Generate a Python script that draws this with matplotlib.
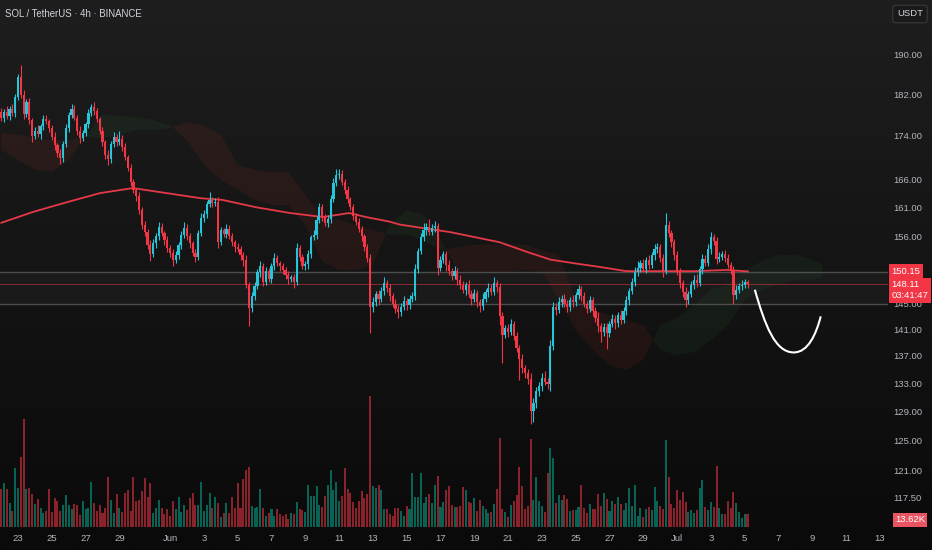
import numpy as np
import matplotlib
matplotlib.use("Agg")
import matplotlib.pyplot as plt
import matplotlib.transforms as mtransforms
from matplotlib.path import Path
from matplotlib.patches import PathPatch
from matplotlib.colors import LinearSegmentedColormap, to_rgba
from matplotlib.ticker import NullLocator, NullFormatter

plt.rcParams['font.family'] = ['Liberation Sans Narrow', 'Liberation Sans', 'DejaVu Sans']

# ---------------- data (4h candles, x = days since May 22) ----------------
first_open = 178.6
closes = [
    177.5, 178.6, 177.8, 179.2, 178.4, 181.5, 185.6, 182.0, 178.2, 180.5,
    177.0, 174.0, 175.0, 174.3, 175.8, 177.2, 176.8, 175.5, 173.8, 172.2,
    170.8, 169.8, 172.5, 175.5, 178.0, 179.2, 177.5, 175.0, 173.6, 174.5,
    176.2, 178.4, 179.5, 178.8, 177.2, 175.0, 172.8, 170.5, 169.6, 172.5,
    173.8, 172.8, 173.5, 172.0, 170.0, 168.0, 165.5, 164.0, 163.0, 160.5,
    158.0, 156.8, 154.5, 153.0, 154.8, 156.0, 157.6, 156.5, 155.4, 154.0,
    153.2, 152.0, 152.8, 154.5, 156.2, 157.5, 156.0, 154.8, 153.2, 152.6,
    156.5, 159.2, 159.8, 161.5, 162.3, 161.8, 162.0, 155.0, 157.0, 156.4,
    157.3, 156.0, 155.0, 154.2, 153.8, 152.8, 152.0, 148.0, 144.3, 146.2,
    147.8, 150.0, 151.0, 148.5, 150.2, 149.0, 151.0, 152.4, 151.5, 151.0,
    150.4, 149.6, 149.0, 149.2, 148.5, 154.0, 152.5, 151.0, 151.4, 153.0,
    155.8, 156.2, 158.8, 161.0, 159.5, 158.2, 159.0, 162.5, 165.3, 166.8,
    167.0, 165.5, 164.0, 162.5, 161.0, 159.5, 158.5, 157.2, 156.0, 154.2,
    152.4, 144.5, 145.2, 146.5, 145.8, 147.0, 148.3, 147.5, 146.2, 145.0,
    144.2, 143.6, 144.5, 145.4, 144.8, 145.8, 146.2, 150.5, 153.5, 155.8,
    157.0, 157.6, 156.8, 157.5, 157.8, 150.8, 152.0, 153.0, 151.2, 150.2,
    149.4, 150.2, 148.8, 148.0, 147.2, 148.0, 146.5, 145.8, 146.6, 145.2,
    144.6, 145.8, 146.8, 147.5, 146.9, 148.2, 147.6, 143.0, 140.2, 141.2,
    140.6, 141.8, 140.0, 138.2, 136.5, 135.2, 134.4, 133.6, 129.0, 130.2,
    131.8, 132.6, 133.8, 133.2, 132.8, 138.5, 144.5, 144.0, 145.2, 145.8,
    145.0, 144.4, 145.6, 145.2, 146.3, 147.3, 146.2, 145.0, 144.2, 145.5,
    143.8, 142.8, 141.5, 140.6, 141.3, 140.5, 141.8, 142.6, 141.9, 143.2,
    142.5, 143.8, 145.5, 147.0, 148.5, 150.0, 150.8, 151.5, 150.6, 152.0,
    151.2, 152.8, 153.8, 154.2, 152.4, 150.2, 157.9, 156.5, 155.0, 152.8,
    150.2, 148.2, 146.8, 145.6, 146.5, 148.0, 148.8, 148.3, 150.5, 152.2,
    151.6, 153.8, 155.8, 155.2, 152.2, 152.6, 153.0, 152.4, 151.2, 150.4,
    146.3, 147.2, 147.8, 148.0, 148.4, 148.11,
]
wick_up = [
    0.8, 0.6, 1.2, 0.5, 0.9, 0.7, 0.6, 2.4, 0.8, 0.7,
    0.9, 0.5, 0.6, 1.1, 0.4, 0.7, 0.8, 0.5, 0.6, 0.9,
    0.4, 0.7, 0.5, 0.8, 0.6, 1.0, 0.7, 0.5, 0.9, 0.6,
    0.5, 0.8, 0.7, 1.1, 0.6, 0.4, 0.7, 0.5, 0.8, 0.6,
    0.9, 0.5, 1.4, 0.7, 0.6, 0.5, 0.8, 0.6, 0.4, 0.7,
    0.5, 0.6, 0.4, 0.8, 0.7, 0.5, 0.9, 0.6, 0.4, 0.7,
    0.5, 0.6, 0.8, 0.5, 0.7, 0.9, 0.6, 0.5, 0.4, 0.6,
    0.5, 0.8, 0.7, 0.6, 1.4, 0.5, 0.7, 0.9, 0.6, 0.5,
    0.8, 0.6, 0.5, 0.4, 0.7, 0.5, 0.6, 0.8, 0.5, 0.7,
    0.6, 0.5, 0.9, 0.6, 0.7, 0.5, 0.6, 0.8, 0.5, 0.4,
    0.6, 0.5, 0.7, 0.4, 0.6, 0.8, 0.5, 0.6, 0.4, 0.7,
    0.5, 0.9, 0.6, 0.8, 0.5, 0.4, 0.7, 0.6, 0.9, 1.0,
    0.8, 0.6, 0.5, 0.7, 0.4, 0.6, 0.5, 0.7, 0.6, 0.4,
    0.5, 0.6, 0.8, 0.5, 0.7, 0.6, 0.9, 0.5, 0.6, 0.4,
    0.7, 0.5, 0.6, 0.8, 0.5, 0.6, 0.7, 0.9, 0.6, 0.8,
    1.2, 0.7, 1.3, 0.6, 0.8, 0.5, 0.7, 0.6, 0.5, 0.8,
    0.6, 0.9, 0.5, 0.7, 0.6, 0.5, 0.8, 0.6, 0.7, 0.5,
    0.6, 0.8, 0.5, 0.7, 0.6, 1.0, 0.5, 0.6, 0.7, 0.5,
    0.6, 0.8, 0.5, 0.6, 0.4, 0.7, 0.5, 0.6, 0.8, 0.7,
    0.6, 0.5, 0.7, 0.9, 0.6, 0.8, 0.7, 0.6, 0.9, 0.5,
    0.7, 0.6, 0.5, 0.8, 0.6, 0.7, 0.5, 0.6, 0.4, 0.7,
    0.5, 0.6, 0.8, 0.5, 0.7, 0.6, 0.5, 0.7, 0.6, 0.5,
    0.8, 0.6, 0.7, 0.5, 0.6, 0.9, 1.1, 0.6, 0.7, 0.5,
    0.8, 0.6, 0.9, 0.7, 0.5, 0.6, 2.1, 0.8, 0.5, 0.6,
    0.7, 0.5, 0.6, 0.8, 0.5, 0.6, 0.7, 0.9, 0.6, 0.8,
    0.7, 0.9, 1.0, 0.6, 0.7, 0.8, 0.5, 0.7, 0.6, 0.5,
    0.6, 0.8, 0.5, 0.7, 0.6, 0.4,
]
wick_dn = [
    0.6, 0.9, 0.5, 0.8, 0.6, 0.7, 0.5, 0.6, 0.9, 0.5,
    0.7, 1.2, 0.6, 0.5, 0.8, 0.6, 0.5, 0.7, 0.6, 0.9,
    0.8, 1.1, 0.6, 0.5, 0.7, 0.6, 0.5, 0.8, 0.9, 0.6,
    0.5, 0.7, 0.6, 0.8, 0.5, 0.6, 0.7, 0.9, 1.0, 0.6,
    0.5, 0.7, 0.6, 0.8, 0.5, 0.6, 0.7, 0.5, 0.9, 0.6,
    0.7, 0.8, 0.6, 1.2, 0.5, 0.7, 0.6, 0.5, 0.8, 0.6,
    0.7, 0.9, 0.5, 0.6, 0.7, 0.5, 0.6, 0.8, 0.5, 0.9,
    0.6, 0.5, 0.7, 0.6, 0.5, 0.8, 0.6, 1.0, 0.5, 0.6,
    0.7, 0.5, 0.6, 0.8, 0.5, 0.7, 0.9, 0.6, 2.8, 0.7,
    0.6, 0.5, 0.8, 0.7, 0.6, 0.5, 0.7, 0.6, 0.5, 0.8,
    0.6, 0.7, 0.9, 0.5, 1.0, 0.6, 0.7, 0.5, 0.6, 0.8,
    0.6, 0.5, 0.7, 0.6, 0.8, 0.5, 0.6, 0.7, 0.5, 0.6,
    0.7, 0.5, 0.6, 0.8, 0.5, 0.7, 0.6, 0.5, 0.8, 0.6,
    0.7, 4.1, 0.8, 0.6, 1.0, 0.5, 0.7, 0.6, 0.8, 0.5,
    0.7, 0.9, 0.6, 0.5, 0.8, 0.6, 0.5, 0.7, 0.6, 0.5,
    0.6, 0.7, 0.5, 0.6, 0.8, 1.2, 0.6, 0.5, 1.0, 0.7,
    0.6, 0.5, 0.8, 0.7, 0.6, 0.9, 0.5, 1.1, 0.6, 0.7,
    0.9, 0.6, 0.5, 0.7, 0.6, 0.5, 0.7, 1.4, 4.2, 0.6,
    0.8, 0.5, 0.7, 0.6, 3.0, 0.8, 0.6, 0.7, 1.8, 1.5,
    0.7, 0.6, 0.8, 0.5, 0.7, 0.9, 0.6, 0.8, 0.5, 0.7,
    0.6, 0.8, 0.5, 0.7, 0.6, 0.5, 0.8, 0.6, 0.7, 0.5,
    0.8, 0.7, 0.9, 1.6, 0.6, 2.5, 0.7, 0.5, 0.8, 0.6,
    0.7, 0.5, 0.6, 0.8, 0.5, 0.7, 0.6, 0.8, 0.5, 0.7,
    0.6, 0.5, 0.8, 0.6, 0.7, 0.9, 0.5, 0.6, 0.8, 0.7,
    0.6, 0.8, 0.7, 1.2, 0.6, 0.5, 0.7, 0.6, 0.5, 0.8,
    0.6, 0.5, 0.7, 0.6, 0.8, 0.5, 0.6, 0.7, 0.5, 0.6,
    1.4, 0.6, 0.5, 0.7, 0.5, 0.6,
]
volume_k = [
    39.6, 46.2, 39.9, 25.2, 16.8, 62.0, 41.0, 73.5, 113.4, 39.9,
    41.0, 34.7, 24.2, 29.4, 20.0, 14.7, 16.8, 39.9, 15.8, 30.5,
    27.3, 16.8, 23.1, 33.6, 23.1, 18.9, 24.2, 23.1, 12.6, 27.3,
    18.9, 20.0, 47.3, 25.2, 16.8, 23.1, 14.7, 20.0, 52.5, 28.4,
    14.7, 34.7, 20.0, 15.8, 35.7, 38.9, 16.8, 52.5, 27.3, 28.4,
    37.8, 51.5, 31.5, 46.2, 14.7, 20.0, 28.4, 20.0, 13.7, 18.9,
    11.6, 27.3, 18.9, 31.5, 15.8, 23.1, 17.9, 30.5, 35.7, 23.1,
    23.1, 47.3, 16.8, 23.1, 35.7, 20.0, 31.5, 25.2, 10.5, 14.7,
    25.2, 14.7, 31.5, 20.0, 46.2, 20.0, 50.4, 59.9, 63.0, 22.1,
    20.0, 21.0, 39.9, 20.0, 11.6, 14.7, 18.9, 11.6, 18.9, 13.7,
    11.6, 13.7, 8.4, 14.7, 13.7, 26.3, 18.9, 17.9, 15.8, 44.1,
    32.6, 32.6, 43.1, 23.1, 21.0, 32.6, 44.1, 59.9, 38.9, 47.3,
    27.3, 32.6, 62.0, 39.9, 35.7, 26.3, 20.0, 27.3, 37.8, 30.5,
    34.7, 137.6, 43.1, 41.0, 44.1, 38.9, 18.9, 18.9, 13.7, 11.6,
    20.0, 20.0, 16.8, 11.6, 22.1, 18.9, 56.7, 31.5, 31.5, 56.7,
    25.2, 31.5, 34.7, 25.2, 44.1, 53.6, 21.0, 26.3, 38.9, 43.1,
    23.1, 21.0, 21.0, 22.1, 42.0, 38.9, 26.3, 25.2, 30.5, 16.8,
    28.4, 22.1, 18.9, 14.7, 15.8, 24.2, 39.9, 93.5, 18.9, 15.8,
    10.5, 23.1, 27.3, 33.6, 63.0, 43.1, 18.9, 22.1, 92.4, 28.4,
    52.5, 27.3, 22.1, 15.8, 56.7, 83.0, 72.5, 25.2, 33.6, 28.4,
    33.6, 29.4, 16.8, 17.9, 17.9, 21.0, 44.1, 20.0, 14.7, 24.2,
    18.9, 18.9, 34.7, 22.1, 35.7, 29.4, 16.8, 27.3, 24.2, 31.5,
    24.2, 17.9, 25.2, 41.0, 22.1, 44.1, 11.6, 20.0, 10.5, 18.9,
    21.0, 17.9, 42.0, 27.3, 22.1, 18.9, 91.4, 52.5, 24.2, 20.0,
    38.9, 28.4, 36.8, 26.3, 15.8, 17.9, 14.7, 17.9, 41.0, 49.4,
    21.0, 17.9, 26.3, 21.0, 64.1, 20.0, 13.7, 13.7, 27.3, 20.0,
    36.8, 25.2, 15.8, 9.5, 13.7, 13.62,
]

# moving average (sampled along its path)
ma_days = [0, 1.9, 3.9, 5.85, 7.8, 9.8, 11.8, 13.1, 15.1, 17.1, 19.05, 20.6,
           21.6, 23.0, 23.6, 26.6, 29.5, 31.1, 32.5, 33.9, 35.4, 37.0, 39.0,
           41.0, 42.95, 44.2]
ma_vals = [158.3, 160.2, 161.9, 163.5, 164.4, 163.5, 162.6, 162.3, 161.0, 160.0,
           159.3, 160.0, 159.3, 158.5, 158.0, 156.7, 155.0, 153.4, 152.1, 151.5,
           150.9, 150.2, 150.2, 150.2, 150.4, 150.15]

# ichimoku cloud spans
cloud_days = [0, 1, 2, 3, 4, 5, 6, 7, 8, 9, 10, 11, 12, 13, 14, 15, 16, 17, 18,
              19, 20, 21, 22, 23, 24, 25, 26, 27, 28, 29, 30, 31, 32, 33, 34,
              35, 36, 37, 38, 39, 40, 41, 42, 43, 44, 45, 46, 47, 48, 48.6]
span_a = [171.4, 169.5, 167.7, 167.3, 169.5, 174.0, 178.2, 177.8, 177.6, 177.0,
          176.0, 173.2, 168.6, 165.9, 164.1, 162.3, 161.4, 161.4, 157.9, 151.8,
          150.4, 150.4, 151.2, 158.0, 160.5, 159.7, 155.4, 150.4, 150.1, 150.1,
          150.1, 150.4, 150.1, 145.6, 140.9, 137.9, 135.6, 134.9, 136.4, 141.6,
          142.7, 144.8, 147.2, 148.0, 150.4, 151.8, 152.9, 152.9, 152.1, 151.2]
span_b = [174.7, 174.2, 173.6, 173.2, 173.2, 173.8, 173.6, 174.2, 175.1, 175.1,
          175.5, 176.6, 176.0, 174.2, 168.6, 167.7, 167.3, 167.3, 163.2, 159.2,
          158.8, 157.9, 157.1, 156.3, 156.3, 155.4, 153.7, 154.1, 154.6, 154.6,
          154.6, 154.6, 153.7, 152.9, 145.6, 144.0, 143.2, 142.4, 141.6, 137.9,
          137.1, 137.6, 139.4, 141.6, 145.6, 147.2, 148.0, 148.8, 148.8, 149.1]

zone_low, zone_high = 145.0, 150.0
last_price = 148.11
ma_last = 150.15

price_ticks = [190, 182, 174, 166, 161, 156, 145, 141, 137, 133, 129, 125, 121, 117.5]
date_ticks = [1, 3, 5, 7, 10, 12, 14, 16, 18, 20, 22, 24, 26, 28, 30, 32, 34, 36,
              38, 40, 42, 44, 46, 48, 50, 52]
date_labels = ['23', '25', '27', '29', 'Jun', '3', '5', '7', '9', '11', '13', '15',
               '17', '19', '21', '23', '25', '27', '29', 'Jul', '3', '5', '7', '9',
               '11', '13']

# hand drawn projection (bezier control points)
curve_days = [44.6, 45.2, 45.8, 46.9, 47.75, 48.22, 48.5]
curve_prices = [147.2, 141.6, 137.5, 137.5, 137.5, 140.2, 143.0]

# ---------------- figure ----------------
UP = '#26c6da'
DN = '#f23645'
TXT = '#b2b5be'

n = len(closes)
t = np.arange(n) / 6.0
c = np.array(closes)
o = np.array([first_open] + closes[:-1])
hi = np.maximum(o, c) + np.array(wick_up)
lo = np.minimum(o, c) - np.array(wick_dn)
is_up = c >= o
cols = np.where(is_up, UP, DN)

fig = plt.figure(figsize=(9.32, 5.5), dpi=100)

bg = fig.add_axes([0, 0, 1, 1], zorder=-5)
grad = np.linspace(0, 1, 256).reshape(-1, 1)
bg.imshow(grad, aspect='auto', extent=[0, 1, 0, 1],
          cmap=LinearSegmentedColormap.from_list('bg', ['#1e1e1e', '#141414', '#0a0a0a']))
bg.axis('off')

rect = [0, 23 / 550, 888 / 932, 527 / 550]
ax = fig.add_axes(rect, zorder=1)
ax.patch.set_alpha(0)
vax = fig.add_axes(rect, sharex=ax, zorder=0)
vax.patch.set_alpha(0)

# volume
vcols = [to_rgba('#089981', 0.62) if u else to_rgba('#f23645', 0.55) for u in is_up]
vax.bar(t, volume_k, width=0.12, color=vcols, linewidth=0)
vax.set_ylim(0, 527 * 1.05)
vax.axis('off')

# price pane
ax.set_yscale('log')
ax.set_ylim(113.73, 201.7)
ax.set_xlim(-0.065, 52.48)

a = np.array(span_a)
b = np.array(span_b)
ax.fill_between(cloud_days, a, b, where=a >= b, interpolate=True, color='#43a047', alpha=0.075, lw=0, zorder=1)
ax.fill_between(cloud_days, a, b, where=a < b, interpolate=True, color='#f44336', alpha=0.075, lw=0, zorder=1)

ax.axhspan(zone_low, zone_high, color='#9e9e9e', alpha=0.05, lw=0, zorder=1)
ax.axhline(zone_high, color='#4d4d4d', lw=1.0, zorder=2)
ax.axhline(zone_low, color='#4d4d4d', lw=1.0, zorder=2)
ax.axhline(last_price, color=DN, lw=0.6, alpha=0.6, zorder=2)

ax.plot(ma_days, ma_vals, color='#e53948', lw=1.3, zorder=2.5, solid_capstyle='round')

ax.vlines(t, lo, hi, colors=cols, lw=0.8, zorder=3)
body = np.maximum(np.abs(c - o), 0.18)
ax.bar(t, body, bottom=np.minimum(o, c), width=0.13, color=cols, linewidth=0, zorder=4)

verts = list(zip(curve_days, curve_prices))
codes = [Path.MOVETO] + [Path.CURVE4] * 6
ax.add_patch(PathPatch(Path(verts, codes), fill=False, edgecolor='white', lw=1.5, zorder=5))

for s in ax.spines.values():
    s.set_visible(False)
ax.yaxis.tick_right()
ax.set_yticks(price_ticks)
ax.set_yticklabels([f'{v:.2f}' for v in price_ticks])
ax.yaxis.set_minor_locator(NullLocator())
ax.yaxis.set_minor_formatter(NullFormatter())
ax.tick_params(axis='y', length=0, pad=4, labelsize=6.8, labelcolor=TXT)
ax.set_xticks(date_ticks, labels=date_labels)
ax.tick_params(axis='x', length=0, pad=5, labelsize=6.8, labelcolor=TXT)

# price labels on the scale
tr = mtransforms.blended_transform_factory(ax.transAxes, ax.transData)
ax.text(1.004, ma_last, f'{ma_last:.2f}', transform=tr, ha='left', va='center', fontsize=6.8,
        color='white', clip_on=False, zorder=6,
        bbox=dict(boxstyle='square,pad=0.28', fc=DN, ec='none'))
tr2 = mtransforms.offset_copy(tr, fig=fig, y=-6, units='dots')
ax.text(1.004, last_price, f'{last_price:.2f}\n03:41:47', transform=tr2, ha='left', va='center',
        fontsize=6.8, color='white', clip_on=False, zorder=6, linespacing=1.25,
        bbox=dict(boxstyle='square,pad=0.28', fc=DN, ec='none'))
vtr = mtransforms.blended_transform_factory(vax.transAxes, vax.transData)
vax.text(1.008, volume_k[-1] * 0.55, f'{volume_k[-1]:.2f}K', transform=vtr, ha='left', va='center',
         fontsize=6.8, color='white', clip_on=False, zorder=6,
         bbox=dict(boxstyle='square,pad=0.25', fc='#e85462', ec='none'))

fig.text(5 / 932, 1 - 14 / 550, 'SOL / TetherUS · 4h · BINANCE', color='#d1d4dc',
         fontsize=6.9, va='center', ha='left')
fig.text(910 / 932, 1 - 14 / 550, 'USDT', color='#d1d4dc', fontsize=6.8, va='center', ha='center',
         bbox=dict(boxstyle='round,pad=0.45,rounding_size=0.3', fc='#1a1a1a', ec='#3a3a3a', lw=0.8))

fig.savefig('out.png', dpi=100)
